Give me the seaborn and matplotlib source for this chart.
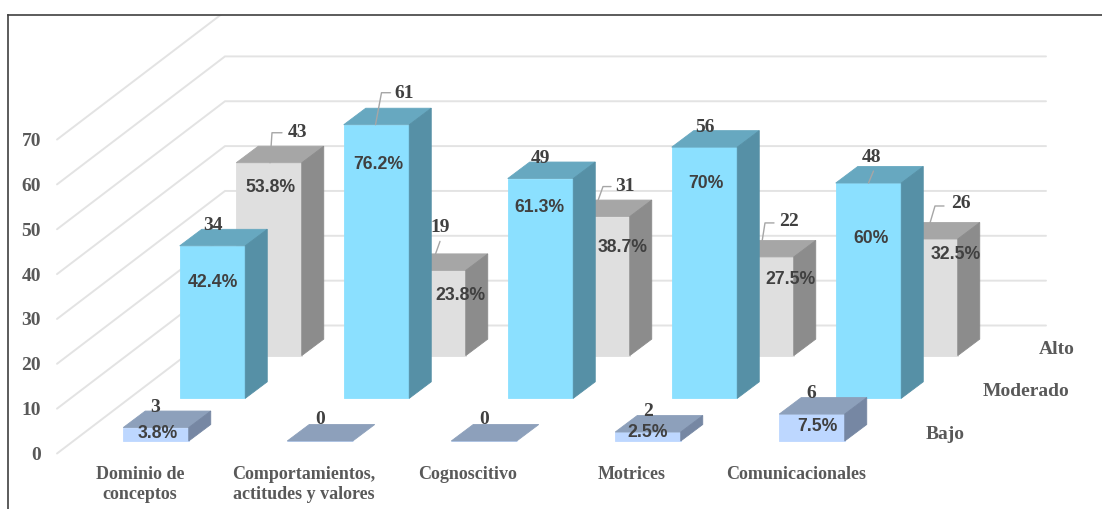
import matplotlib
matplotlib.use("Agg")
import matplotlib.pyplot as plt
import seaborn as sns
import pandas as pd
from matplotlib.patches import Polygon

sns.set_style("white")

categorias = ["Dominio de\nconceptos", "Comportamientos,\nactitudes y valores", "Cognoscitivo", "Motrices", "Comunicacionales"]
bajo = [3, 0, 0, 2, 6]
moderado = [34, 61, 49, 56, 48]
alto = [43, 19, 31, 22, 26]
bajo_pct = ["3.8%", "", "", "2.5%", "7.5%"]
moderado_pct = ["42.4%", "76.2%", "61.3%", "70%", "60%"]
alto_pct = ["53.8%", "23.8%", "38.7%", "27.5%", "32.5%"]
y_ticks = [0, 10, 20, 30, 40, 50, 60, 70]

W, H = 1102, 509
# escala en pixeles de la imagen
PX_CAT = 164.0
PX_VAL = 4.485
X0_PX = 156.0
Y0_PX = 453.5
LEFT, RIGHT, TOP = 8, 1102, 15

def dpx(dx, dy):
    # desplazamiento en pixeles -> unidades de datos
    return dx / PX_CAT, -dy / PX_VAL

# desplazamiento de cada fila de barras y profundidad de la barra
ROW_DX, ROW_DY = dpx(56.5, -42.7)
BASE_DY = 12.5 / PX_VAL
BAR_DX, BAR_DY = dpx(22, -16.5)
WALL_DX, WALL_DY = dpx(168, -128)
BAR_W = 65.5 / PX_CAT

# offsets de etiquetas (pixeles desde el centro superior del frente)
count_off = {
    "bajo": [(-1, -20), (0, -21), (0, -21), (0, -21), (-1, -21)],
    "moderado": [(0, -20), (28, -31), (0, -20), (0, -20), (3, -26)],
    "alto": [(28, -30), (7, -43), (28, -30), (28, -35), (36, -35)],
}
pct_off = {
    "bajo": [(2, 6), (0, 0), (0, 0), (0, 0), (5, 12)],
    "moderado": [(0, 37), (2, 40), (-1, 29), (1, 36), (3, 55)],
    "alto": [(2, 25), (27, 25), (26, 31), (29, 23), (31, 16)],
}
# lineas guia de algunas etiquetas
leaders = {
    ("moderado", 1): [(-1, 0), (5, -32), (14, -32)],
    ("moderado", 4): [(0, 0), (5, -12)],
    ("alto", 0): [(1, 0), (3, -30), (13, -30)],
    ("alto", 1): [(2, -15), (7, -29)],
    ("alto", 2): [(1, -16), (6, -30), (14, -30)],
    ("alto", 3): [(1, -15), (4, -34), (13, -34)],
    ("alto", 4): [(5, -16), (10, -33), (19, -33)],
}

# de atras hacia adelante: nombre, valores, etiquetas, fila, colores frente/arriba/lado
filas = [
    ("alto", alto, alto_pct, 2, "#dfdfdf", "#a6a6a6", "#8c8c8c"),
    ("moderado", moderado, moderado_pct, 1, "#8be0ff", "#67a8c0", "#5690a6"),
    ("bajo", bajo, bajo_pct, 0, "#bdd7ff", "#8da0bb", "#7687a3"),
]
nombres = {"alto": "Alto", "moderado": "Moderado", "bajo": "Bajo"}

SERIF = "Liberation Serif"
SANS = "Liberation Sans"

fig = plt.figure(figsize=(W / 100, H / 100), dpi=100)
ax = fig.add_axes([LEFT / W, 0, (RIGHT - LEFT) / W, (H - TOP) / H])
fig.patch.set_facecolor("white")

# rejilla del piso y pared del fondo
gx0 = (57 - X0_PX) / PX_CAT
gx1 = (1046 - X0_PX) / PX_CAT
for v in y_ticks:
    ax.plot([gx0, gx0 + WALL_DX, gx1], [v, v + WALL_DY, v + WALL_DY], color="#e3e3e3", lw=1.4, zorder=0, solid_joinstyle="miter")

for nombre, valores, pct, fila, c_front, c_top, c_side in filas:
    base = BASE_DY + fila * ROW_DY
    pos = [i + fila * ROW_DX for i in range(len(valores))]
    df = pd.DataFrame({"pos": pos, "valor": valores})
    sns.barplot(data=df, x="pos", y="valor", native_scale=True, width=BAR_W, color=c_front, saturation=1,
                bottom=base, linewidth=0.6, edgecolor=c_front, errorbar=None, ax=ax)
    for x, v in zip(pos, valores):
        x0, x1 = x - BAR_W / 2, x + BAR_W / 2
        y0, y1 = base, base + v
        ax.add_patch(Polygon([(x0, y1), (x1, y1), (x1 + BAR_DX, y1 + BAR_DY), (x0 + BAR_DX, y1 + BAR_DY)], facecolor=c_top, edgecolor=c_top, lw=0.6, zorder=1))
        if v > 0:
            ax.add_patch(Polygon([(x1, y0), (x1 + BAR_DX, y0 + BAR_DY), (x1 + BAR_DX, y1 + BAR_DY), (x1, y1)], facecolor=c_side, edgecolor=c_side, lw=0.6, zorder=1))
    for i, (x, v) in enumerate(zip(pos, valores)):
        top = base + v
        ox, oy = dpx(*count_off[nombre][i])
        ax.text(x + ox, top + oy, str(v), ha="center", va="center", family=SERIF, weight="bold", fontsize=14, color="#404040", zorder=5)
        if pct[i]:
            ox, oy = dpx(*pct_off[nombre][i])
            ax.text(x + ox, top + oy, pct[i], ha="center", va="center", family=SANS, weight="bold", fontsize=12.7, color="#404040", zorder=5)
        if (nombre, i) in leaders:
            pts = [dpx(*p) for p in leaders[(nombre, i)]]
            ax.plot([x + p[0] for p in pts], [top + p[1] for p in pts], color="#a6a6a6", lw=1, zorder=4)

    # nombre de la serie a la derecha
    lx = (926 - X0_PX) / PX_CAT + fila * ROW_DX
    ly = (Y0_PX - 434.5) / PX_VAL + fila * ROW_DY
    ax.text(lx, ly, nombres[nombre], ha="left", va="center", family=SERIF, weight="bold", fontsize=14, color="#595959", zorder=5)

ax.set_xlim((LEFT - X0_PX) / PX_CAT, (RIGHT - X0_PX) / PX_CAT)
ax.set_ylim((Y0_PX - H) / PX_VAL, (Y0_PX - TOP) / PX_VAL)
ax.set_xlabel("")
ax.set_ylabel("")
ax.grid(False)

ax.set_yticks(y_ticks)
ax.set_yticklabels([str(v) for v in y_ticks], family=SERIF, weight="bold", fontsize=14, color="#595959")
ax.tick_params(axis="y", length=0, pad=-33 * 0.72)
ax.set_xticks([i - 16 / PX_CAT for i in range(len(categorias))])
ax.set_xticklabels(categorias, family=SERIF, weight="bold", fontsize=13, color="#595959", linespacing=1.25)
ax.tick_params(axis="x", length=0, pad=-43 * 0.72)

for lado in ["left", "top"]:
    ax.spines[lado].set_visible(True)
    ax.spines[lado].set_color("#404040")
    ax.spines[lado].set_linewidth(1.2)
ax.spines["bottom"].set_visible(False)
ax.spines["right"].set_visible(False)

fig.savefig("out.png", dpi=100)
